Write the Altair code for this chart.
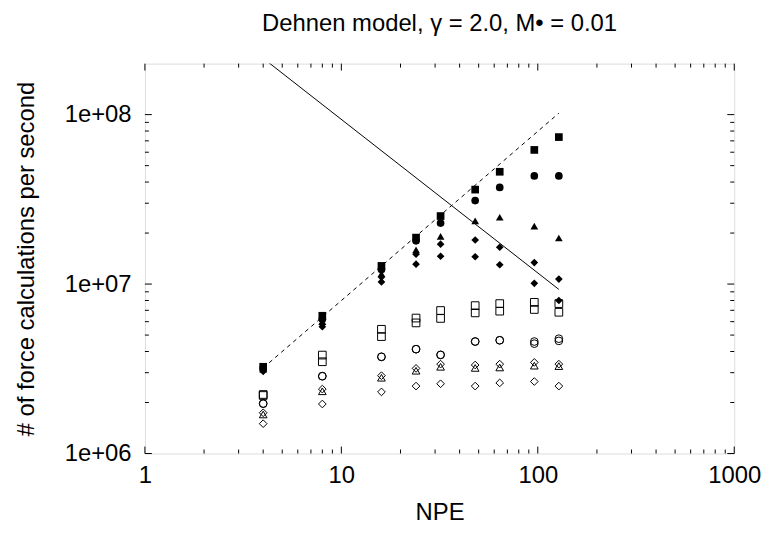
import altair as alt
import pandas as pd

FONT = "Liberation Sans"

# ---------------- data ----------------
npe = [4, 8, 16, 24, 32, 48, 64, 96, 128]

# filled symbols
filled_square = [3.25e6, 6.5e6, 1.28e7, 1.88e7, 2.52e7, 3.61e7, 4.60e7, 6.19e7, 7.37e7]
filled_circle = [3.20e6, 6.2e6, 1.22e7, 1.80e7, 2.29e7, 3.11e7, 3.72e7, 4.35e7, 4.35e7]
filled_triangle = [3.15e6, 6.0e6, 1.15e7, 1.59e7, 1.91e7, 2.36e7, 2.48e7, 2.20e7, 1.87e7]
filled_diamond_a = [3.10e6, 5.8e6, 1.10e7, 1.50e7, 1.72e7, 1.82e7, 1.65e7, 1.34e7, 1.07e7]
filled_diamond_b = [3.05e6, 5.6e6, 1.03e7, 1.31e7, 1.46e7, 1.45e7, 1.30e7, 1.01e7, 8.0e6]

# open symbols
open_square_a = [2.23e6, 3.81e6, 5.41e6, 6.30e6, 6.98e6, 7.46e6, 7.67e6, 7.80e6, 7.67e6]
open_square_b = [2.20e6, 3.48e6, 4.90e6, 5.90e6, 6.27e6, 6.76e6, 6.92e6, 7.08e6, 6.82e6]
open_circle_a = [1.97e6, 2.86e6, 3.72e6, 4.13e6, 3.82e6, 4.58e6, 4.66e6, 4.58e6, 4.76e6]
open_circle_b = [1.97e6, 2.86e6, 3.72e6, 4.13e6, 3.82e6, 4.58e6, 4.66e6, 4.45e6, 4.62e6]
open_triangle = [1.70e6, 2.33e6, 2.80e6, 3.08e6, 3.25e6, 3.20e6, 3.22e6, 3.30e6, 3.28e6]
open_diamond_a = [1.74e6, 2.40e6, 2.88e6, 3.18e6, 3.37e6, 3.33e6, 3.37e6, 3.45e6, 3.37e6]
open_diamond_b = [1.50e6, 1.96e6, 2.31e6, 2.50e6, 2.58e6, 2.50e6, 2.61e6, 2.66e6, 2.50e6]

# reference lines
solid_npe = [4, 128]
solid_rate = [2.15e8, 9.3e6]
dashed_npe = [4, 128]
dashed_rate = [3.2e6, 1.02e8]

# axis ticks
x_major = [1, 10, 100, 1000]
x_minor = [2, 3, 4, 5, 6, 7, 8, 9, 20, 30, 40, 50, 60, 70, 80, 90,
           200, 300, 400, 500, 600, 700, 800, 900]
y_major = [1e6, 1e7, 1e8]
y_minor = [2e6, 3e6, 4e6, 5e6, 6e6, 7e6, 8e6, 9e6,
           2e7, 3e7, 4e7, 5e7, 6e7, 7e7, 8e7, 9e7]

# ---------------- tables ----------------
filled_series = {
    "filled square": filled_square,
    "filled circle": filled_circle,
    "filled triangle": filled_triangle,
    "filled diamond a": filled_diamond_a,
    "filled diamond b": filled_diamond_b,
}
open_series = {
    "open square a": open_square_a,
    "open square b": open_square_b,
    "open circle a": open_circle_a,
    "open circle b": open_circle_b,
    "open triangle": open_triangle,
    "open diamond a": open_diamond_a,
    "open diamond b": open_diamond_b,
}
shape_of = {
    "filled square": "square", "filled circle": "circle",
    "filled triangle": "triangle-up", "filled diamond a": "diamond",
    "filled diamond b": "diamond",
    "open square a": "square", "open square b": "square",
    "open circle a": "circle", "open circle b": "circle",
    "open triangle": "triangle-up", "open diamond a": "diamond",
    "open diamond b": "diamond",
}


def long(series):
    return pd.concat(
        [pd.DataFrame({"npe": npe, "rate": v, "series": k}) for k, v in series.items()],
        ignore_index=True,
    )


filled_df = long(filled_series)
open_df = long(open_series)
solid_df = pd.DataFrame({"npe": solid_npe, "rate": solid_rate})
dashed_df = pd.DataFrame({"npe": dashed_npe, "rate": dashed_rate})
xmaj_df = pd.DataFrame({"npe": x_major})
xmin_df = pd.DataFrame({"npe": x_minor})
ymaj_df = pd.DataFrame({"rate": y_major})
ymin_df = pd.DataFrame({"rate": y_minor})

# ---------------- scales / axes ----------------
xscale = alt.Scale(type="log", domain=[1, 1000], nice=False)
yscale = alt.Scale(type="log", domain=[1e6, 2e8], nice=False)

xaxis = alt.Axis(values=x_major, format="d", ticks=False, tickSize=0, domain=False,
                 grid=False, labelFont=FONT, labelFontSize=24, labelColor="black",
                 labelPadding=10, labelFlush=False, labelOverlap=False,
                 title="NPE", titleFont=FONT, titleFontSize=24,
                 titleFontWeight="normal", titleColor="black", titlePadding=14)
yaxis = alt.Axis(values=y_major, labelExpr="'1e+0' + round(log(datum.value) / LN10)",
                 ticks=False, tickSize=0, domain=False, grid=False,
                 labelFont=FONT, labelFontSize=24, labelColor="black",
                 labelPadding=14, labelFlush=False, labelOverlap=False,
                 title="# of force calculations per second", titleFont=FONT,
                 titleFontSize=24, titleFontWeight="normal", titleColor="black",
                 titlePadding=26)

X = alt.X("npe:Q", scale=xscale, axis=xaxis)
Y = alt.Y("rate:Q", scale=yscale, axis=yaxis)

shape_enc = alt.Shape("series:N",
                      scale=alt.Scale(domain=list(shape_of.keys()),
                                      range=list(shape_of.values())),
                      legend=None)

# ---------------- layers ----------------
MAJ, MIN = 7, 4

xt = [
    alt.Chart(xmaj_df).mark_rule(color="black", strokeWidth=1).encode(
        x=X, y=alt.value(0), y2=alt.value(MAJ)),
    alt.Chart(xmin_df).mark_rule(color="black", strokeWidth=1).encode(
        x=X, y=alt.value(0), y2=alt.value(MIN)),
    alt.Chart(xmaj_df).mark_rule(color="black", strokeWidth=1).encode(
        x=X, y=alt.value("height"), y2=alt.value(alt.expr(f"height - {MAJ}"))),
    alt.Chart(xmin_df).mark_rule(color="black", strokeWidth=1).encode(
        x=X, y=alt.value("height"), y2=alt.value(alt.expr(f"height - {MIN}"))),
]
yt = [
    alt.Chart(ymaj_df).mark_rule(color="black", strokeWidth=1).encode(
        y=Y, x=alt.value(0), x2=alt.value(MAJ)),
    alt.Chart(ymin_df).mark_rule(color="black", strokeWidth=1).encode(
        y=Y, x=alt.value(0), x2=alt.value(MIN)),
    alt.Chart(ymaj_df).mark_rule(color="black", strokeWidth=1).encode(
        y=Y, x=alt.value("width"), x2=alt.value(alt.expr(f"width - {MAJ}"))),
    alt.Chart(ymin_df).mark_rule(color="black", strokeWidth=1).encode(
        y=Y, x=alt.value("width"), x2=alt.value(alt.expr(f"width - {MIN}"))),
]

solid = alt.Chart(solid_df).mark_line(color="black", strokeWidth=1, clip=True).encode(x=X, y=Y)
dashed = alt.Chart(dashed_df).mark_line(color="black", strokeWidth=1,
                                        strokeDash=[4, 4], clip=True).encode(x=X, y=Y)

open_pts = alt.Chart(open_df).mark_point(filled=False, color="black", strokeWidth=1,
                                         size=60, opacity=1).encode(
    x=X, y=Y, shape=shape_enc)
filled_pts = alt.Chart(filled_df).mark_point(filled=True, color="black", size=60,
                                             opacity=1).encode(
    x=X, y=Y, shape=shape_enc)

chart = alt.layer(*xt, *yt, solid, dashed, open_pts, filled_pts).properties(
    width=594,
    height=393,
    padding={"left": 138, "top": 54, "right": 30, "bottom": 71},
    autosize=alt.AutoSizeParams(type="none"),
    title=alt.TitleParams("Dehnen model, γ = 2.0, M• = 0.01", font=FONT, fontSize=24,
                          fontWeight="normal", color="black", anchor="middle", offset=27),
).configure_view(stroke="black", strokeWidth=1).configure(background="white")

chart.save("out.html", embed_options={"renderer": "svg", "actions": False})
